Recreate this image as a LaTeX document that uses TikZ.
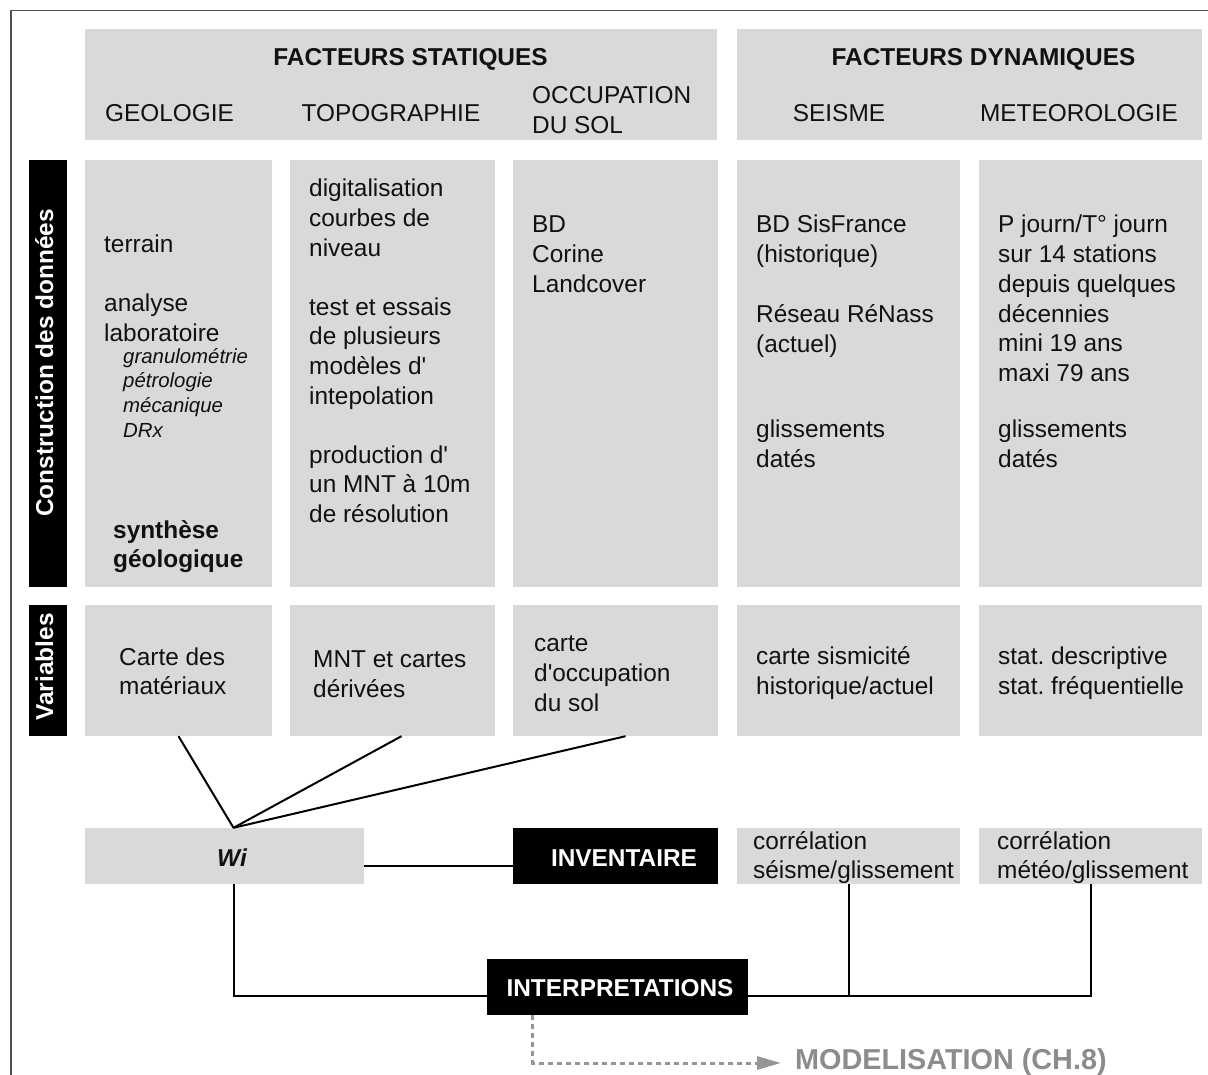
\documentclass[tikz,border=0pt]{standalone}
\usepackage{fontspec}
\setmainfont{Liberation Sans}
\usetikzlibrary{fit,arrows.meta}
\definecolor{boxgray}{RGB}{217,217,217}
\definecolor{framegray}{RGB}{80,80,80}
\definecolor{modgray}{RGB}{140,140,140}
\definecolor{dashgray}{RGB}{150,150,150}
\definecolor{txtc}{RGB}{17,17,17}
\newcommand\Stk[2]{\vtop{\baselineskip=#1\relax\lineskiplimit=-100pt\lineskip=0pt #2}}
\newcommand\Lin[1]{\hbox{#1}}
\newcommand\Blank{\hbox{}}
\newcommand\Q{\textquotesingle}
\frenchspacing
\begin{document}
\begin{tikzpicture}[x=1pt,y=-1pt,
  gbox/.style={fill=boxgray, inner sep=0pt, draw=none},
  bbox/.style={fill=black, inner sep=0pt, draw=none},
  body/.style={anchor=base west, inner sep=0pt, text=txtc, font=\fontsize{24.4}{29.6}\selectfont},
  hdr/.style={anchor=base, inner sep=0pt, text=txtc, font=\fontsize{24.4}{29.6}\selectfont},
  bold/.style={hdr, font=\fontsize{24.4}{29.6}\selectfont\bfseries},
  small/.style={body, font=\fontsize{20.4}{24.7}\selectfont\itshape},
  vlab/.style={anchor=base, inner sep=0pt, rotate=90, text=white, font=\fontsize{24.4}{29.6}\selectfont\bfseries},
  wlab/.style={anchor=base, inner sep=0pt, text=white, font=\fontsize{24.4}{29.6}\selectfont\bfseries},
  conn/.style={line width=2pt, black},
  dashline/.style={line width=3pt, dashgray, dash pattern=on 5pt off 4pt}
]
\useasboundingbox (0,0) rectangle (1208,1075);
% frame
\draw[framegray, line width=1.5pt] (11,1075) -- (11,10.5) -- (1208,10.5);

% header boxes
\node[gbox, fit={(85,29)(717,140)}] (hstat) {};
\node[gbox, fit={(737,29)(1202,140)}] (hdyn) {};
\node[bold] (tstat) at (410.5,66) {FACTEURS STATIQUES};
\node[bold] (tdyn) at (983.5,66) {FACTEURS DYNAMIQUES};
\node[hdr] (tgeo) at (169.5,122) {GEOLOGIE};
\node[hdr] (ttopo) at (391,122) {TOPOGRAPHIE};
\node[body] (tocc) at (532,104) {\Stk{30pt}{\Lin{OCCUPATION}\Lin{DU SOL}}};
\node[hdr] (tseis) at (839,122) {SEISME};
\node[hdr] (tmet) at (1079,122) {METEOROLOGIE};

% construction row
\node[bbox, fit={(29,160)(67,587)}] (bar1) {};
\node[vlab] (lbar1) at (53,363) {Construction des données};
\node[gbox, fit={(85,160)(272,587)}] (geo) {};
\node[gbox, fit={(290,160)(495,587)}] (topo) {};
\node[gbox, fit={(513,160)(718,587)}] (occ) {};
\node[gbox, fit={(737,160)(960,587)}] (seis) {};
\node[gbox, fit={(979,160)(1202,587)}] (met) {};

\node[body] (geo1) at (104,253) {\Stk{29.5pt}{\Lin{terrain}\Blank\Lin{analyse}\Lin{laboratoire}}};
\node[small] (geo2) at (123,363) {\Stk{24.7pt}{\Lin{granulométrie}\Lin{pétrologie}\Lin{mécanique}\Lin{DRx}}};
\node[body, font=\fontsize{24.4}{29.6}\selectfont\bfseries] (geo3) at (113,538) {\Stk{29pt}{\Lin{synthèse}\Lin{géologique}}};

\node[body] (topo1) at (309,197) {\Stk{29.6pt}{\Lin{digitalisation}\Lin{courbes de}\Lin{niveau}\Blank\Lin{test et essais}\Lin{de plusieurs}\Lin{modèles d\Q}\Lin{intepolation}\Blank\Lin{production d\Q}\Lin{un MNT à 10m}\Lin{de résolution}}};

\node[body] (occ1) at (532,233) {\Stk{30pt}{\Lin{BD}\Lin{Corine}\Lin{Landcover}}};

\node[body] (seis1) at (756,233) {\Stk{29.8pt}{\Lin{BD SisFrance}\Lin{(historique)}\Blank\Lin{Réseau RéNass}\Lin{(actuel)}}};
\node[body] (seis2) at (756,437) {\Stk{30pt}{\Lin{glissements}\Lin{datés}}};

\node[body] (met1) at (998,233) {\Stk{29.7pt}{\Lin{P journ/T° journ}\Lin{sur 14 stations}\Lin{depuis quelques}\Lin{décennies}\Lin{mini 19 ans}\Lin{maxi 79 ans}}};
\node[body] (met2) at (998,437) {\Stk{30pt}{\Lin{glissements}\Lin{datés}}};

% variables row
\node[bbox, fit={(29,605)(67,736)}] (bar2) {};
\node[vlab] (lbar2) at (53,667) {Variables};
\node[gbox, fit={(85,605)(272,736)}] (var1) {};
\node[gbox, fit={(290,605)(495,736)}] (var2) {};
\node[gbox, fit={(513,605)(718,736)}] (var3) {};
\node[gbox, fit={(737,605)(960,736)}] (var4) {};
\node[gbox, fit={(979,605)(1202,736)}] (var5) {};
\node[body] (v1) at (119,665) {\Stk{29.5pt}{\Lin{Carte des}\Lin{matériaux}}};
\node[body] (v2) at (313,667) {\Stk{30pt}{\Lin{MNT et cartes}\Lin{dérivées}}};
\node[body] (v3) at (534,651) {\Stk{30pt}{\Lin{carte}\Lin{d\Q occupation}\Lin{du sol}}};
\node[body] (v4) at (756,664) {\Stk{30pt}{\Lin{carte sismicité}\Lin{historique/actuel}}};
\node[body] (v5) at (998,664) {\Stk{30pt}{\Lin{stat. descriptive}\Lin{stat. fréquentielle}}};

% bottom rows
\node[gbox, fit={(85,828)(364,884)}] (wi) {};
\node[hdr, font=\fontsize{24.4}{29.6}\selectfont\bfseries\itshape] (twi) at (232,866) {Wi};
\node[bbox, fit={(513,828)(718,884)}] (inv) {};
\node[wlab] (tinv) at (624,866) {INVENTAIRE};
\node[gbox, fit={(737,828)(960,884)}] (cor1) {};
\node[gbox, fit={(979,828)(1202,884)}] (cor2) {};
\node[body] (tcor1) at (753,849) {\Stk{29.5pt}{\Lin{corrélation}\Lin{séisme/glissement}}};
\node[body] (tcor2) at (997,849) {\Stk{29.5pt}{\Lin{corrélation}\Lin{météo/glissement}}};
\node[bbox, fit={(487,959)(748,1015)}] (interp) {};
\node[wlab] (tinterp) at (620,996) {INTERPRETATIONS};

\node[anchor=base west, inner sep=0pt, text=modgray, font=\fontsize{28.8}{34}\selectfont\bfseries] (model) at (795,1069) {MODELISATION (CH.8)};

% connectors
\coordinate (lvl) at ([yshift=-9pt]interp.east);
\coordinate (mtip) at ([xshift=-14pt,yshift=6pt]model.base west);
\draw[conn] ([xshift=9pt]wi.north) -- (var1.south);
\draw[conn] ([xshift=9pt]wi.north) -- ([xshift=9pt]var2.south);
\draw[conn] ([xshift=9pt]wi.north) -- ([xshift=10pt]var3.south);
\draw[conn] ([yshift=-10pt]wi.east) -- ([yshift=-10pt]inv.west);
\draw[conn] ([xshift=9.5pt]wi.south) |- ([yshift=-9pt]interp.west);
\draw[conn] (lvl) -| (cor2.south);
\draw[conn] (cor1.south) -- (cor1.south |- lvl);
\draw[dashline, -{Triangle[length=24pt,width=13pt]}] ([xshift=-85pt]interp.south) |- (mtip);
\end{tikzpicture}
\end{document}
